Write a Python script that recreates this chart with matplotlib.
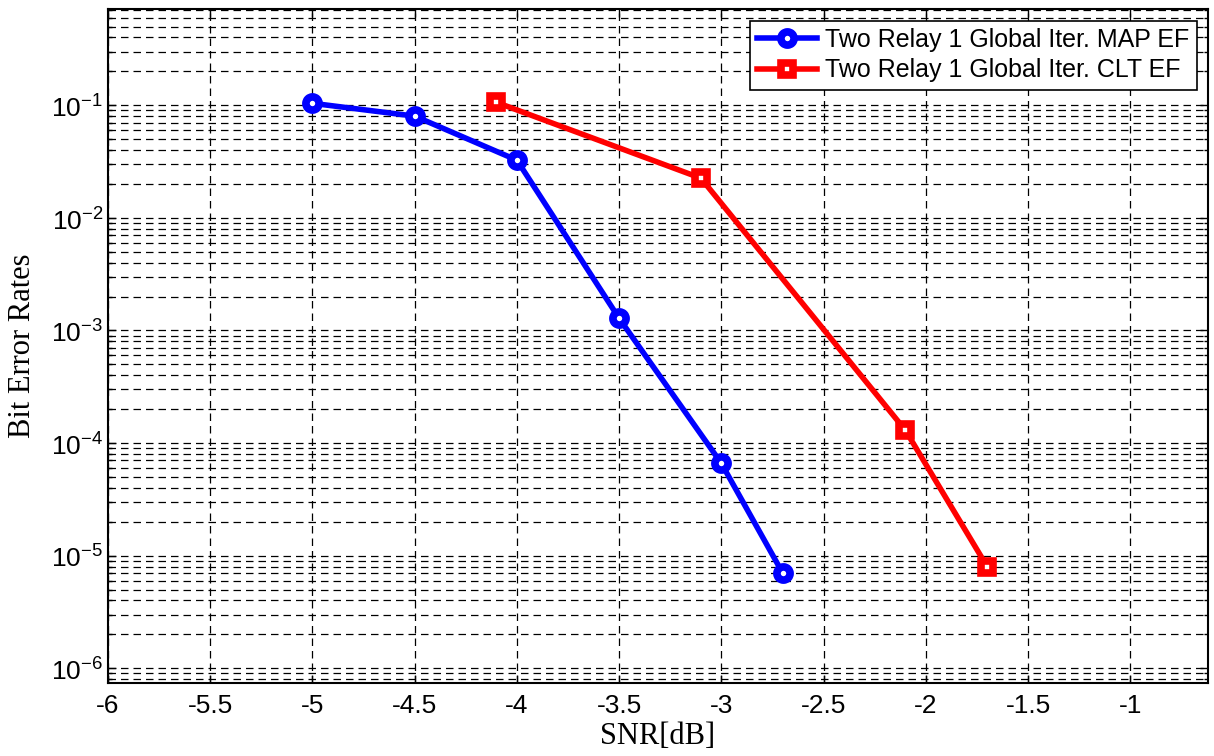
import numpy as np
import matplotlib.pyplot as plt
from matplotlib.ticker import FixedLocator, NullFormatter

# SNR values and BER
snr_map = [-5.0, -4.5, -4.0, -3.5, -3.0, -2.7]
ber_map = [0.104, 0.080, 0.0325, 1.28e-3, 6.6e-5, 7.0e-6]
snr_clt = [-4.1, -3.1, -2.1, -1.7]
ber_clt = [0.106, 0.0225, 1.3e-4, 8.0e-6]
labels = ['Two Relay 1 Global Iter. MAP EF', 'Two Relay 1 Global Iter. CLT EF']
xticks = [-6, -5.5, -5, -4.5, -4, -3.5, -3, -2.5, -2, -1.5, -1]
yexps = [-6, -5, -4, -3, -2, -1]

plt.rcParams['font.family'] = ['Liberation Sans', 'DejaVu Sans']
plt.rcParams['mathtext.fontset'] = 'custom'
plt.rcParams['mathtext.rm'] = 'Liberation Sans'

fig = plt.figure(figsize=(12.14, 7.56), dpi=100)
ax = fig.add_axes([0.089, 0.0966, 0.906, 0.891])

ax.semilogy(snr_map, ber_map, '-o', color='blue', lw=4, ms=9.5, mew=5.5,
            mfc='white', mec='blue', label=labels[0], zorder=5)
ax.semilogy(snr_clt, ber_clt, '-s', color='red', lw=4, ms=9, mew=5.5,
            mfc='white', mec='red', label=labels[1], zorder=5)

ax.set_xlim(-6, -0.62)
ax.set_ylim(7.4e-7, 0.71)
ax.set_xticks(xticks)
ax.set_xticklabels(['{:g}'.format(t) for t in xticks])

# only ticks inside the view
ymin, ymax = ax.get_ylim()
ax.set_yticks([10.0 ** e for e in yexps])
ax.set_yticklabels(['$10^{%d}$' % e for e in yexps])
minors = [m * 10.0 ** e for e in range(-7, 0) for m in range(2, 10)]
minors = [v for v in minors if ymin <= v <= ymax]
ax.yaxis.set_minor_locator(FixedLocator(minors))
ax.yaxis.set_minor_formatter(NullFormatter())

ax.grid(True, which='major', axis='both', color='black', ls=(0, (6, 4)), lw=0.9)
ax.grid(True, which='minor', axis='y', color='black', ls=(0, (6, 4)), lw=0.9)

ax.tick_params(which='both', direction='in', top=True, right=True, labelsize=19, width=1)
ax.tick_params(which='major', length=6)
ax.tick_params(which='minor', length=3)
ax.tick_params(axis='x', pad=8)
for s in ax.spines.values():
    s.set_linewidth(1.5)

ax.set_xlabel('SNR[dB]', family='Liberation Serif', fontsize=22, labelpad=3)
ax.set_ylabel('Bit Error Rates', family='Liberation Serif', fontsize=22, labelpad=10)

leg = ax.legend(loc='upper right', fontsize=18, fancybox=False, framealpha=1,
                edgecolor='black', handlelength=2.4, borderpad=0.3,
                labelspacing=0.25, handletextpad=0.3, borderaxespad=0.45)
leg.get_frame().set_linewidth(1.2)

fig.savefig('out.png', dpi=100)
